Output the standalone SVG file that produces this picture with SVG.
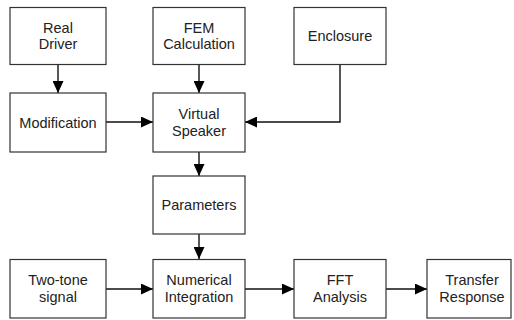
<svg xmlns="http://www.w3.org/2000/svg" width="514" height="320" viewBox="0 0 514 320">
<style>
.box{fill:#fff;stroke:#333;stroke-width:1.2}
.lbl{font-family:"Liberation Sans",Arial,sans-serif;font-size:14.5px;fill:#222;text-anchor:middle}
.edge{fill:none;stroke:#111;stroke-width:1.4}
</style>
<defs>
<marker id="ah" markerUnits="userSpaceOnUse" markerWidth="12" markerHeight="11" refX="12" refY="5.5" orient="auto">
<path d="M0,0 L12,5.5 L0,11 Z" fill="#000"/>
</marker>
</defs>
<rect width="514" height="320" fill="#fff"/>
<g id="connectors">
<path class="edge" d="M58,65 V93" marker-end="url(#ah)"/>
<path class="edge" d="M199,65 V93" marker-end="url(#ah)"/>
<path class="edge" d="M106,122 H153" marker-end="url(#ah)"/>
<path class="edge" d="M340,65 V122 H245" marker-end="url(#ah)"/>
<path class="edge" d="M199,152 V176" marker-end="url(#ah)"/>
<path class="edge" d="M199,234 V259" marker-end="url(#ah)"/>
<path class="edge" d="M106,289 H153" marker-end="url(#ah)"/>
<path class="edge" d="M245,289 H294" marker-end="url(#ah)"/>
<path class="edge" d="M386,289 H427" marker-end="url(#ah)"/>
</g>
<g id="real-driver"><rect class="box" x="10" y="7.5" width="96" height="57"/><text class="lbl" x="58" y="32.5">Real</text><text class="lbl" x="58" y="49">Driver</text></g>
<g id="fem"><rect class="box" x="153" y="7.5" width="92" height="57"/><text class="lbl" x="199" y="32.5">FEM</text><text class="lbl" x="199" y="49">Calculation</text></g>
<g id="enclosure"><rect class="box" x="294" y="7.5" width="92" height="57"/><text class="lbl" x="340" y="41">Enclosure</text></g>
<g id="modification"><rect class="box" x="10" y="93" width="96" height="59"/><text class="lbl" x="58" y="127.5">Modification</text></g>
<g id="virtual-speaker"><rect class="box" x="153" y="93" width="92" height="59"/><text class="lbl" x="199" y="119">Virtual</text><text class="lbl" x="199" y="135.5">Speaker</text></g>
<g id="parameters"><rect class="box" x="153" y="176" width="92" height="58"/><text class="lbl" x="199" y="210">Parameters</text></g>
<g id="two-tone"><rect class="box" x="10" y="259.5" width="96" height="58.5"/><text class="lbl" x="58" y="285">Two-tone</text><text class="lbl" x="58" y="301.5">signal</text></g>
<g id="numerical-integration"><rect class="box" x="153" y="259.5" width="92" height="58.5"/><text class="lbl" x="199" y="285">Numerical</text><text class="lbl" x="199" y="301.5">Integration</text></g>
<g id="fft"><rect class="box" x="294" y="259.5" width="92" height="58.5"/><text class="lbl" x="340" y="285">FFT</text><text class="lbl" x="340" y="301.5">Analysis</text></g>
<g id="transfer"><rect class="box" x="427" y="259.5" width="84" height="58.5"/><text class="lbl" x="472" y="285">Transfer</text><text class="lbl" x="472" y="301.5">Response</text></g>
</svg>
